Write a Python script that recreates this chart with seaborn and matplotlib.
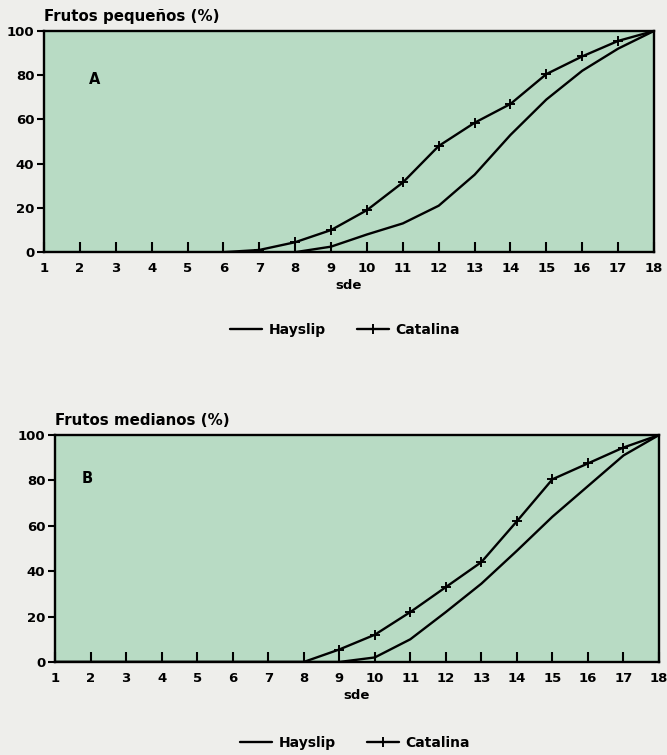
import matplotlib
matplotlib.use("Agg")
import matplotlib.pyplot as plt
from matplotlib.lines import Line2D
import pandas as pd
import seaborn as sns

# Weeks after emergence (x axis)
semanas = list(range(1, 19))
semana_labels = [str(s) for s in semanas]
y_ticks = [0, 20, 40, 60, 80, 100]

# Cumulative percentage of small fruits (panel A)
peq_hayslip = [0, 0, 0, 0, 0, 0, 0, 0, 2.5, 8, 13, 21, 35, 53, 69, 82, 92, 100]
peq_catalina = [0, 0, 0, 0, 0, 0, 1, 4.5, 10, 19, 31.5, 48, 58.5, 67, 80.5, 88.5, 95.5, 100]

# Cumulative percentage of medium fruits (panel B)
med_hayslip = [0, 0, 0, 0, 0, 0, 0, 0, 0, 2, 10, 22, 34.5, 49, 64, 77.5, 91, 100]
med_catalina = [0, 0, 0, 0, 0, 0, 0, 0, 5.5, 12, 22, 33, 44, 62, 80.5, 87.5, 94.5, 100]

GREEN = "#b8dbc4"
PAPER = "#eeeeeb"
FONT = ["DejaVu Sans"]

sns.set_theme(style="white")
plt.rcParams["font.family"] = FONT
plt.rcParams["font.weight"] = "bold"
plt.rcParams["text.color"] = "black"

fig = plt.figure(figsize=(6.67, 7.55), dpi=100, facecolor=PAPER)
ax_a = fig.add_axes([0.066, 0.666, 0.9145, 0.293])
ax_b = fig.add_axes([0.0825, 0.1232, 0.9055, 0.3006])

MARK = dict(marker="+", markersize=6.5, markeredgewidth=1.4,
            markeredgecolor="black", markerfacecolor="black")


def panel(ax, hay, cat, title, letter, lx, ly):
    df = pd.DataFrame({"semana": semanas, "Hayslip": hay, "Catalina": cat})
    sns.lineplot(data=df, x="semana", y="Hayslip", ax=ax, color="black",
                 linewidth=1.7)
    sns.lineplot(data=df, x="semana", y="Catalina", ax=ax, color="black",
                 linewidth=1.7, **MARK)
    ax.set_facecolor(GREEN)
    ax.set_xlim(1, 18)
    ax.set_ylim(0, 100)
    ax.set_xticks(semanas)
    ax.set_xticklabels(semana_labels)
    ax.set_yticks(y_ticks)
    ax.set_yticklabels([str(v) for v in y_ticks])
    ax.tick_params(axis="x", bottom=True, direction="in", length=7, width=1.5,
                   pad=7, labelsize=9.5, colors="black")
    ax.tick_params(axis="y", left=True, direction="out", length=5, width=1.5,
                   pad=2, labelsize=9.5, colors="black")
    for lab in ax.get_xticklabels() + ax.get_yticklabels():
        lab.set_fontweight("bold")
    for sp in ax.spines.values():
        sp.set_visible(True)
        sp.set_color("black")
        sp.set_linewidth(1.7)
    ax.set_xlabel("sde", fontsize=9.5, fontweight="bold", labelpad=3,
                  color="black")
    ax.set_ylabel("")
    ax.text(0.0, 1.03, title, transform=ax.transAxes, fontsize=10.8,
            fontweight="bold", ha="left", va="bottom", color="black")
    ax.text(lx, ly, letter, fontsize=10.5, fontweight="bold", ha="center",
            va="center", color="black")


panel(ax_a, peq_hayslip, peq_catalina, "Frutos pequeños (%)", "A", 2.4, 78)
panel(ax_b, med_hayslip, med_catalina, "Frutos medianos (%)", "B", 1.9, 81)

handles = [
    Line2D([], [], color="black", linewidth=1.7),
    Line2D([], [], color="black", linewidth=1.7, **MARK),
]
for yc, xc in [(1 - 330 / 755, 345 / 667), (1 - 743 / 755, 355 / 667)]:
    fig.legend(handles, ["Hayslip", "Catalina"], loc="center",
               bbox_to_anchor=(xc, yc), ncol=2, frameon=False,
               handlelength=2.3, columnspacing=2.2, handletextpad=0.5,
               labelcolor="black",
               prop={"weight": "bold", "size": 10, "family": FONT})

fig.savefig("out.png", dpi=100, facecolor=PAPER)
